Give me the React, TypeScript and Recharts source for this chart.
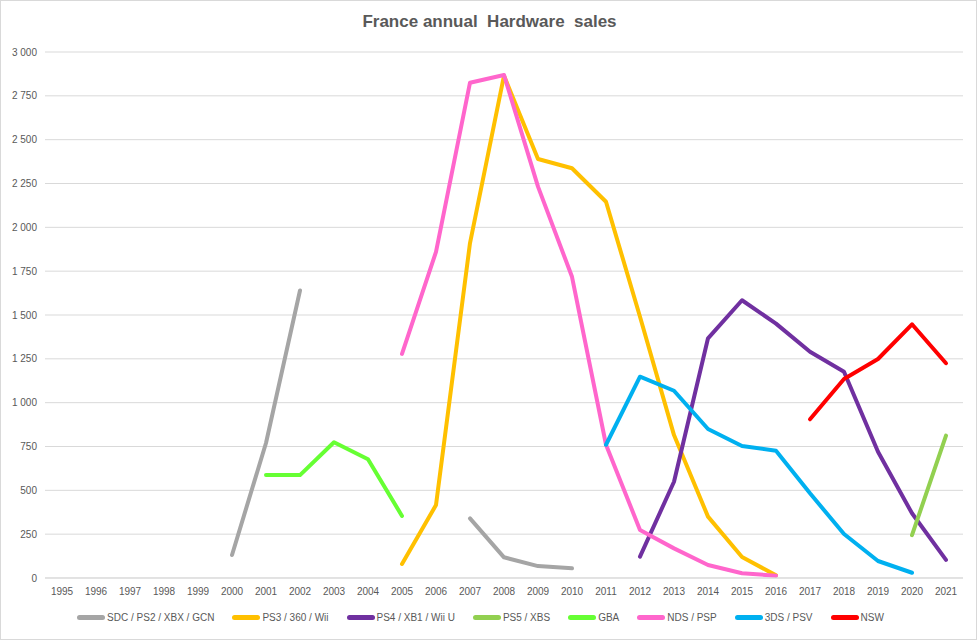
import React from 'react'
import { LineChart, Line, XAxis, YAxis, CartesianGrid } from 'recharts'

const years = [
  '1995', '1996', '1997', '1998', '1999', '2000', '2001', '2002', '2003', '2004',
  '2005', '2006', '2007', '2008', '2009', '2010', '2011', '2012', '2013', '2014',
  '2015', '2016', '2017', '2018', '2019', '2020', '2021',
]

const _ = null

// yearly values, 1995 -> 2021 (thousands of units)
const gen6 = [_, _, _, _, _, 131, 770, 1640, _, _, _, _, 340, 118, 68, 55, _, _, _, _, _, _, _, _, _, _, _]
const gen7 = [_, _, _, _, _, _, _, _, _, _, 80, 416, 1910, 2865, 2390, 2337, 2146, 1490, 815, 350, 120, 15, _, _, _, _, _]
const gen8 = [_, _, _, _, _, _, _, _, _, _, _, _, _, _, _, _, _, 122, 549, 1367, 1584, 1451, 1290, 1176, 720, 369, 103]
const gen9 = [_, _, _, _, _, _, _, _, _, _, _, _, _, _, _, _, _, _, _, _, _, _, _, _, _, 244, 812]
const gba = [_, _, _, _, _, _, 587, 587, 774, 677, 354, _, _, _, _, _, _, _, _, _, _, _, _, _, _, _, _]
const nds = [_, _, _, _, _, _, _, _, _, _, 1278, 1860, 2825, 2869, 2232, 1718, 760, 274, 169, 74, 27, 13, _, _, _, _, _]
const n3ds = [_, _, _, _, _, _, _, _, _, _, _, _, _, _, _, _, 760, 1148, 1068, 850, 753, 726, 483, 251, 97, 30, _]
const nsw = [_, _, _, _, _, _, _, _, _, _, _, _, _, _, _, _, _, _, _, _, _, _, 905, 1135, 1249, 1447, 1225]

const yTicks = [0, 250, 500, 750, 1000, 1250, 1500, 1750, 2000, 2250, 2500, 2750, 3000]

const SERIES = [
  { key: 'gen6', name: 'SDC / PS2 / XBX / GCN', color: '#a5a5a5', values: gen6 },
  { key: 'gen7', name: 'PS3 / 360 / Wii', color: '#ffc000', values: gen7 },
  { key: 'gen8', name: 'PS4 / XB1 / Wii U', color: '#7030a0', values: gen8 },
  { key: 'gen9', name: 'PS5 / XBS', color: '#92d050', values: gen9 },
  { key: 'gba', name: 'GBA', color: '#66ff33', values: gba },
  { key: 'nds', name: 'NDS / PSP', color: '#ff66cc', values: nds },
  { key: 'n3ds', name: '3DS / PSV', color: '#00b0f0', values: n3ds },
  { key: 'nsw', name: 'NSW', color: '#ff0000', values: nsw },
]

const data = years.map((year, i) => {
  const row: Record<string, string | number | null> = { year }
  SERIES.forEach((s) => {
    row[s.key] = s.values[i]
  })
  return row
})

const FONT = "'Liberation Sans', Arial, sans-serif"
const TEXT = '#595959'

const formatThousands = (v: number) => String(v).replace(/\B(?=(\d{3})+(?!\d))/g, ' ')

export default function App() {
  return (
    <div
      style={{
        position: 'absolute',
        left: 0,
        top: 0,
        width: 977,
        height: 640,
        background: '#fff',
        border: '1px solid #d9d9d9',
        boxSizing: 'border-box',
        fontFamily: FONT,
      }}
    >
      <div
        style={{
          position: 'absolute',
          top: 11,
          left: 0,
          width: 977,
          textAlign: 'center',
          fontSize: 17,
          fontWeight: 'bold',
          color: TEXT,
          whiteSpace: 'pre',
        }}
      >
        France annual  Hardware  sales
      </div>

      <div style={{ position: 'absolute', left: -1, top: -1 }}>
        <LineChart width={977} height={640} data={data} margin={{ top: 52, right: 14, bottom: 42, left: 5 }}>
          <CartesianGrid vertical={false} stroke="#d9d9d9" />
          <XAxis
            dataKey="year"
            height={20}
            padding={{ left: 17, right: 17 }}
            tickLine={false}
            tickMargin={4}
            axisLine={{ stroke: '#d9d9d9' }}
            interval={0}
            tick={{ fill: TEXT, fontSize: 10, fontFamily: FONT }}
          />
          <YAxis
            width={40}
            domain={[0, 3000]}
            ticks={yTicks}
            tickFormatter={formatThousands}
            axisLine={false}
            tickLine={false}
            tick={{ fill: TEXT, fontSize: 10, fontFamily: FONT }}
          />
          {SERIES.map((s) => (
            <Line
              key={s.key}
              type="linear"
              dataKey={s.key}
              name={s.name}
              stroke={s.color}
              strokeWidth={4}
              strokeLinecap="round"
              strokeLinejoin="round"
              dot={false}
              activeDot={false}
              isAnimationActive={false}
            />
          ))}
        </LineChart>
      </div>

      <div
        style={{
          position: 'absolute',
          top: 611,
          left: 0,
          width: 977,
          display: 'flex',
          justifyContent: 'center',
          fontSize: 10,
          color: TEXT,
        }}
      >
        {SERIES.map((s) => (
          <div key={s.key} style={{ display: 'flex', alignItems: 'center', marginRight: 18 }}>
            <span
              style={{
                display: 'inline-block',
                width: 28,
                height: 5,
                borderRadius: 3,
                background: s.color,
                marginRight: 2,
              }}
            />
            <span>{s.name}</span>
          </div>
        ))}
      </div>
    </div>
  )
}
